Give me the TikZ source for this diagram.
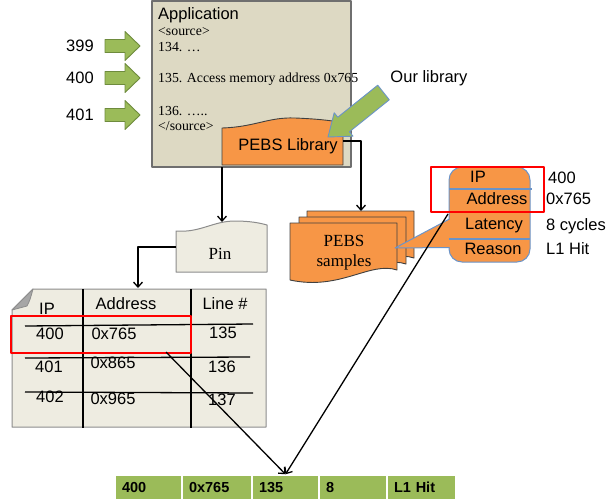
\documentclass[tikz,border=0pt]{standalone}
\usepackage{fontspec}
\setmainfont{Liberation Serif}
\newfontfamily\arialf{Liberation Sans}
\usetikzlibrary{arrows.meta,calc}
\definecolor{appfill}{HTML}{DDD9C3}
\definecolor{appborder}{HTML}{6F6F6F}
\definecolor{docfill}{HTML}{EEECE1}
\definecolor{docborder}{HTML}{8C8C8C}
\definecolor{orangef}{HTML}{F79646}
\definecolor{greenf}{HTML}{9BBB59}
\definecolor{greend}{HTML}{6E8B3D}
\definecolor{bluel}{HTML}{6A93C8}
\definecolor{redb}{HTML}{FF0000}
\definecolor{foldgray}{HTML}{A6A6A6}
\tikzset{
  sans/.style={font=\arialf\fontsize{16.5}{19}\selectfont, inner sep=0pt},
  src/.style={font=\fontsize{13.8}{15}\selectfont, inner sep=0pt, anchor=west},
  serifL/.style={font=\fontsize{17}{20}\selectfont, inner sep=0pt, align=center},
  conn/.style={draw=black, line width=1.3pt, -{Straight Barb[length=5pt,width=9pt,line width=1.3pt]}},
  plainline/.style={draw=black, line width=1.3pt},
  appbox/.style={draw=appborder, fill=appfill, line width=1.6pt, inner sep=0pt},
  docshape/.style={draw=docborder, fill=docfill, line width=1pt},
  orshape/.style={draw=black!75, fill=orangef, line width=0.9pt},
  garrow/.style={draw=greend, fill=greenf, line width=0.9pt},
  barrow/.style={draw=bluel, fill=greenf, line width=0.9pt},
  redbox/.style={draw=redb, line width=2.4pt},
  bline/.style={draw=bluel, line width=1.3pt},
  recbox/.style={draw=bluel, fill=orangef, line width=1pt, rounded corners=13pt, inner sep=0pt},
  barcell/.style={draw=white, fill=greenf, line width=1.5pt, minimum height=25pt, text width=#1, inner xsep=7pt, inner ysep=0pt, align=left, font=\arialf\bfseries\fontsize{14.5}{17}\selectfont},
  greenarrow/.pic={\path[garrow] (-17.5,-6.5) -- (2.5,-6.5) -- (2.5,-14.5) -- (17.5,0) -- (2.5,14.5) -- (2.5,6.5) -- (-17.5,6.5) -- cycle;},
  sheet/.pic={\path[orshape] (0,0) -- (107,0) -- (107,47) .. controls (80,38) and (50,68) .. (0,57) -- cycle;}
}
\begin{document}
\begin{tikzpicture}[x=1pt,y=-1pt,line join=round]
\useasboundingbox (0,0) rectangle (607,503);

% Application box
\node[appbox, minimum width=199pt, minimum height=166pt] (app) at (251.5,84) {};
\node[sans, anchor=west] (apptitle) at (158,15) {Application};
\node[src] (s1) at (158,32) {<source>};
\node[src] (s2) at (158,47) {134. …};
\node[src] (s3) at (158,79) {135. Access memory address 0x765};
\node[src] (s4) at (158,111) {136. …..};
\node[src] (s5) at (158,126) {</source>};

% green arrows with line numbers
\foreach \yy/\tt in {46/399,78/400,115/401}{
  \node[sans] (n\tt) at (80,\yy) {\tt};
  \pic at (122.5,\yy) {greenarrow};
}

% PEBS Library
\path[orshape] (222,165) -- (222,128) .. controls (255,127) and (268,117) .. (295,118) .. controls (320,119) and (335,121) .. (343,123) -- (343,165) -- cycle;
\node[sans] (lib) at (288,146) {PEBS Library};

% Our library arrow
\path[barrow] (377.7,85.2) -- (337.8,117.2) -- (334.2,112.8) -- (328,137) -- (353,136.2) -- (349.4,131.8) -- (389.3,99.8) -- cycle;
\node[sans] (ourlib) at (429,78) {Our library};

% PEBS samples stack
\pic at (307,211) {sheet};
\pic at (299,217) {sheet};
\pic at (290,223) {sheet};
\node[serifL] (samples) at (344,253) {PEBS\\samples};

% connectors from library and application
\coordinate (libout) at (343,141);
\coordinate (sampin) at (361,211);
\draw[conn] (libout) -| (sampin);

% Pin
\path[docshape] (176,272) -- (176,231) .. controls (200,233) and (213,221) .. (235,221) .. controls (250,221) and (260,223) .. (267,225) -- (267,272) -- cycle;
\node[serifL] (pin) at (220,254) {Pin};
\coordinate (appout) at (222,167);
\coordinate (pinin) at (222,222);
\draw[conn] (appout) -- (pinin);
\coordinate (pinout) at (176,247);
\coordinate (tabin) at (138,288);
\draw[conn] (pinout) -| (tabin);

% Table
\path[docshape] (33,289) -- (266,289) -- (266,427) -- (12,427) -- (12,310) -- cycle;
\path[draw=docborder, fill=foldgray, line width=0.8pt] (33,289) -- (12,310) -- (27,306) .. controls (30,300) .. (33,289) -- cycle;
\draw[plainline] (83,289) -- (83,428);
\draw[plainline] (191,289) -- (191,428);
\draw[plainline] (25,326) -- (253,324);
\draw[plainline] (25,358) -- (250,357);
\draw[plainline] (25,392) -- (253,393);
\node[sans] (hip) at (47,309) {IP};
\node[sans] (haddr) at (126,304) {Address};
\node[sans] (hline) at (225,304) {Line \#};
\node[sans] (r1a) at (50,334) {400};
\node[sans] (r1b) at (114,334) {0x765};
\node[sans] (r1c) at (223,333) {135};
\node[sans] (r2a) at (49,367) {401};
\node[sans] (r2b) at (113,363) {0x865};
\node[sans] (r2c) at (222,367) {136};
\node[sans] (r3a) at (50,397) {402};
\node[sans] (r3b) at (113,399) {0x965};
\node[sans] (r3c) at (222,400) {137};
\node[redbox, minimum width=180pt, minimum height=37pt, inner sep=0pt] (tabred) at (101,334.5) {};

% Record callout
\node[recbox, minimum width=81pt, minimum height=95pt] (rec) at (489.5,214.5) {};
\fill[orangef] (452,218) -- (395,248) -- (452,247.5) -- cycle;
\draw[bline, line width=1pt] (449.5,219) -- (395,248) -- (449.5,247.5);
\draw[bline] (449,189) -- (532,189);
\draw[bline] (449,239) -- (530,239);
\node[sans] (rip) at (478,177) {IP};
\node[sans] (raddr) at (497,199) {Address};
\node[sans] (rlat) at (494,226) {Latency};
\node[sans] (rrea) at (493,249) {Reason};
\node[sans, anchor=west] (vip) at (548,178) {400};
\node[sans, anchor=west] (vaddr) at (546,199) {0x765};
\node[sans, anchor=west] (vlat) at (546,226) {8 cycles};
\node[sans, anchor=west] (vrea) at (546,249) {L1 Hit};
\node[redbox, minimum width=113pt, minimum height=45pt, inner sep=0pt] (recred) at (487.5,189.5) {};

% Result bar
\node[barcell=53pt] (c1) at (148.5,487.5) {400};
\node[barcell=56pt] (c2) at (217,487.5) {0x765};
\node[barcell=53pt] (c3) at (285.5,487.5) {135};
\node[barcell=54pt] (c4) at (353,487.5) {8};
\node[barcell=55pt] (c5) at (421.5,487.5) {L1 Hit};

% connectors to result
\coordinate (tabout) at (166,352);
\coordinate (recout) at (448,214);
\draw[conn] (tabout) -- (c3.north);
\draw[conn] (recout) -- (c3.north);
\end{tikzpicture}
\end{document}
